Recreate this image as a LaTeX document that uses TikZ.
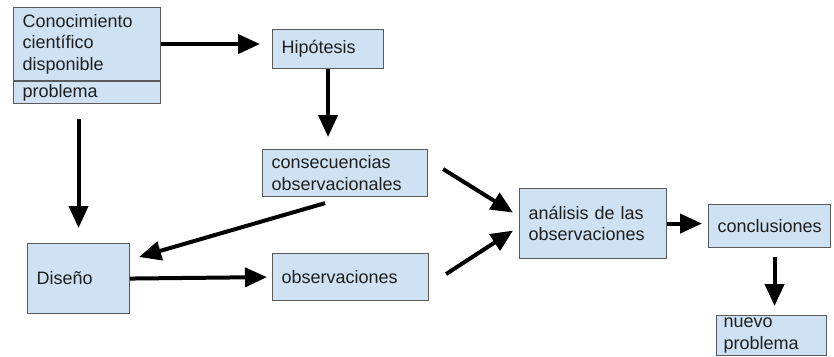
\documentclass[tikz,border=0pt]{standalone}
\usepackage{fontspec}
\setmainfont{Liberation Sans}
\usetikzlibrary{arrows.meta}
\definecolor{boxblue}{HTML}{CFE2F3}
\definecolor{boxline}{HTML}{5A5A5A}
\tikzset{
  blk/.style={draw=boxline, fill=boxblue, line width=1.1pt, anchor=north west,
    align=left, inner xsep=9pt, inner ysep=1pt, text=black!88,
    font=\fontsize{18}{21.5}\selectfont},
  arr/.style={line width=4pt, -{Triangle[length=22pt,width=19pt]}}
}
\begin{document}
\begin{tikzpicture}[x=1pt,y=-1pt]
\useasboundingbox (0,0) rectangle (834,356);
% boxes
\node[blk, text width=129pt, minimum height=73pt] (know) at (13,7) {Conocimiento\\científico\\disponible};
\node[blk, text width=129pt, minimum height=22pt] (prob) at (know.south west) {problema};
\node[blk, text width=93pt, minimum height=39pt] (hip) at (272,29) {Hipótesis};
\node[blk, text width=147pt, minimum height=47pt] (cons) at (262,149) {consecuencias\\observacionales};
\node[blk, text width=84pt, minimum height=70pt] (dis) at (27,243) {Diseño};
\node[blk, text width=138pt, minimum height=47pt] (obs) at (272,253) {observaciones};
\node[blk, text width=129pt, minimum height=70pt] (ana) at (519,188) {análisis de las\\observaciones};
\node[blk, text width=104pt, minimum height=43pt] (con) at (708,204) {conclusiones};
\node[blk, inner xsep=7pt, text width=96pt, minimum height=40pt] (nue) at (716,315) {nuevo\\problema};
% arrows
\draw[arr, shorten >=12pt] (know.east) -- (know.east -| hip.west);
\draw[arr, shorten >=12pt] (hip.south) -- (hip.south |- cons.north);
\draw[arr, shorten <=15pt, shorten >=15pt] (prob.south -| dis.north) -- (dis.north);
\draw[arr] ([xshift=-20pt,yshift=-6pt]cons.south) -- ([xshift=9pt,yshift=-14pt]dis.north east);
\draw[arr, shorten >=5pt] (dis.east) -- (obs.west);
\draw[arr] ([xshift=15pt,yshift=4pt]cons.east) -- ([xshift=-6pt,yshift=11pt]ana.west);
\draw[arr] ([xshift=17pt,yshift=3pt]obs.east) -- ([xshift=-6pt,yshift=-7pt]ana.west);
\draw[arr, shorten >=6pt] (ana.east) -- (ana.east -| con.west);
\draw[arr, shorten <=9pt, shorten >=9pt] ([xshift=5pt]con.south) -- ([xshift=5pt]con.south |- nue.north);
\end{tikzpicture}
\end{document}
